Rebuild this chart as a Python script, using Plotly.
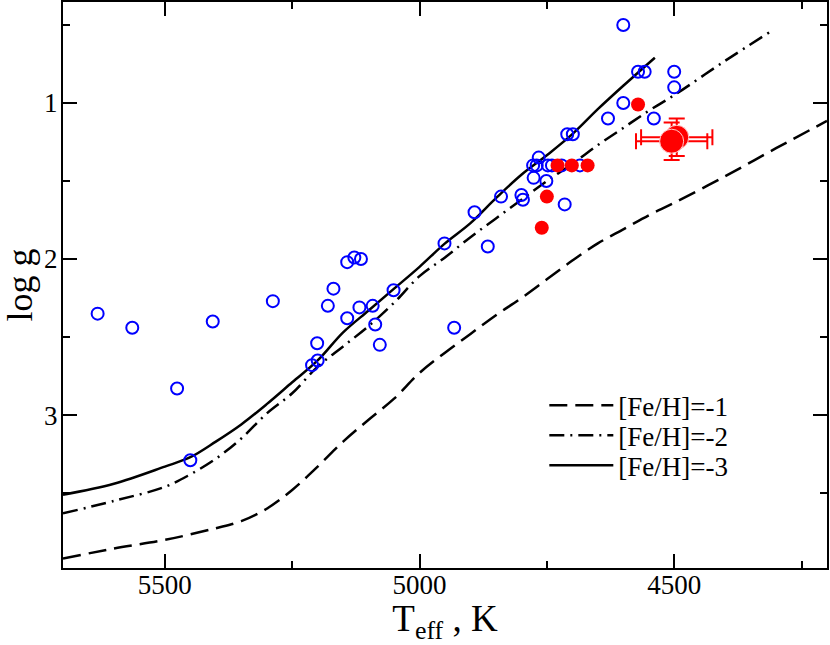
import plotly.graph_objects as go

# ---- data ----
# isochrones (Teff [K], log g)
iso_m1_T = [5700, 5600, 5500, 5400, 5350, 5300, 5250, 5200, 5150, 5100, 5050, 5000, 4950, 4900,
            4850, 4800, 4750, 4700, 4650, 4600, 4550, 4500, 4400, 4300, 4200]
iso_m1_g = [3.92, 3.855, 3.80, 3.725, 3.68, 3.60, 3.48, 3.33, 3.17, 3.03, 2.895, 2.73, 2.60, 2.48,
            2.36, 2.25, 2.13, 2.01, 1.90, 1.81, 1.72, 1.64, 1.47, 1.29, 1.115]

iso_m2_T = [5700, 5600, 5500, 5450, 5400, 5350, 5300, 5250, 5200, 5150, 5100, 5050, 5000, 4950,
            4900, 4850, 4800, 4750, 4700, 4650, 4600, 4550, 4500, 4400, 4312]
iso_m2_g = [3.63, 3.55, 3.46, 3.38, 3.28, 3.15, 2.99, 2.86, 2.69, 2.56, 2.43, 2.28, 2.11, 1.99,
            1.86, 1.74, 1.62, 1.50, 1.39, 1.27, 1.16, 1.05, 0.95, 0.73, 0.545]

iso_m3_T = [5700, 5600, 5500, 5450, 5400, 5350, 5300, 5250, 5200, 5150, 5100, 5050, 5000, 4950,
            4900, 4850, 4800, 4750, 4700, 4650, 4600, 4538]
iso_m3_g = [3.51, 3.44, 3.33, 3.27, 3.17, 3.06, 2.93, 2.79, 2.65, 2.47, 2.33, 2.19, 2.05, 1.90,
            1.77, 1.61, 1.46, 1.335, 1.20, 1.04, 0.89, 0.71]

# comparison stars (open blue circles)
blue_T = [5632, 5564, 5476, 5406, 5450, 5288, 5142, 5128, 5115, 5169,
          5180, 5142, 5118, 5092, 5087, 5078, 5201, 5211, 5200, 5051,
          4951, 4932, 4892, 4866, 4840, 4800, 4797, 4776, 4751, 4715,
          4777, 4770, 4748, 4740, 4721, 4685, 4766, 4710, 4699, 4630,
          4540, 4600, 4600, 4571, 4558, 4500, 4500]
blue_g = [2.35, 2.44, 2.83, 2.40, 3.29, 2.27, 2.02, 1.99, 2.00, 2.19,
          2.30, 2.38, 2.31, 2.30, 2.42, 2.55, 2.54, 2.68, 2.65, 2.20,
          1.90, 2.44, 1.70, 1.92, 1.60, 1.59, 1.62, 1.48, 1.50, 1.65,
          1.40, 1.40, 1.40, 1.40, 1.40, 1.40, 1.35, 1.20, 1.20, 1.10,
          1.10, 1.00, 0.50, 0.80, 0.80, 0.80, 0.90]

# filled red stars
red_T = [4571, 4729, 4701, 4670, 4750, 4760]
red_g = [1.01, 1.40, 1.40, 1.40, 1.60, 1.80]

# programme star (two determinations) with errors
big_T = [4495, 4505]
big_g = [1.22, 1.245]
big_eT = [70, 70]
big_eg = [0.12, 0.12]

legend_labels = ["[Fe/H]=-1", "[Fe/H]=-2", "[Fe/H]=-3"]

FONT = "Liberation Serif, Times New Roman, serif"

fig = go.Figure()

fig.add_trace(go.Scatter(x=iso_m1_T, y=iso_m1_g, mode="lines", name=legend_labels[0], legend="legend",
                         line=dict(color="black", width=2.5, dash="18px,8px", shape="spline")))
fig.add_trace(go.Scatter(x=iso_m2_T, y=iso_m2_g, mode="lines", name=legend_labels[1], legend="legend2",
                         line=dict(color="black", width=2.5, dash="15px,6px,2px,6px", shape="spline")))
fig.add_trace(go.Scatter(x=iso_m3_T, y=iso_m3_g, mode="lines", name=legend_labels[2], legend="legend3",
                         line=dict(color="black", width=2.5, shape="spline")))

fig.add_trace(go.Scatter(x=blue_T, y=blue_g, mode="markers", showlegend=False,
                         marker=dict(symbol="circle-open", size=12, color="blue",
                                     line=dict(width=2, color="blue"))))
fig.add_trace(go.Scatter(x=red_T, y=red_g, mode="markers", showlegend=False,
                         marker=dict(symbol="circle", size=14, color="red",
                                     line=dict(width=0))))
fig.add_trace(go.Scatter(x=big_T, y=big_g, mode="markers", showlegend=False,
                         error_x=dict(type="data", array=big_eT, color="red", thickness=2, width=8),
                         error_y=dict(type="data", array=big_eg, color="red", thickness=2, width=8),
                         marker=dict(symbol="circle", size=24, color="red",
                                     line=dict(width=1, color="#ffcccc"))))

axis_common = dict(showline=True, linecolor="black", linewidth=2, mirror="allticks",
                   ticks="inside", ticklen=14, tickwidth=2, tickcolor="black",
                   showgrid=False, zeroline=False, automargin=False,
                   tickfont=dict(family=FONT, size=27, color="black"))

fig.update_xaxes(range=[5700, 4200], tickmode="array", tickvals=[5500, 5000, 4500],
                 ticklabelstandoff=-8,
                 minor=dict(ticks="inside", ticklen=7, tickwidth=2, tickcolor="black",
                            tickmode="array", tickvals=[5750, 5250, 4750, 4250]),
                 title=dict(text="T<sub>eff</sub> , K", font=dict(family=FONT, size=37, color="black"),
                            standoff=2),
                 **axis_common)
fig.update_yaxes(range=[3.98, 0.353], tickmode="array", tickvals=[1, 2, 3],
                 ticklabelstandoff=-2,
                 minor=dict(ticks="inside", ticklen=7, tickwidth=2, tickcolor="black",
                            tickmode="array", tickvals=[0.5, 1.5, 2.5, 3.5]),
                 title=dict(text="log g", font=dict(family=FONT, size=36, color="black"),
                            standoff=22),
                 **axis_common)

leg_common = dict(x=0.63, xanchor="left", yanchor="middle",
                  bgcolor="rgba(0,0,0,0)", borderwidth=0,
                  font=dict(family=FONT, size=27, color="black"),
                  itemwidth=64)

fig.update_layout(
    width=830, height=645,
    margin=dict(l=63, r=3, t=2, b=77, autoexpand=False),
    paper_bgcolor="white", plot_bgcolor="white",
    showlegend=True,
    legend=dict(y=0.2867, **leg_common),
    legend2=dict(y=0.2337, **leg_common),
    legend3=dict(y=0.1807, **leg_common),
)

fig.write_html("out.html", config={"displayModeBar": False},
               post_script="document.body.style.margin='0';")
